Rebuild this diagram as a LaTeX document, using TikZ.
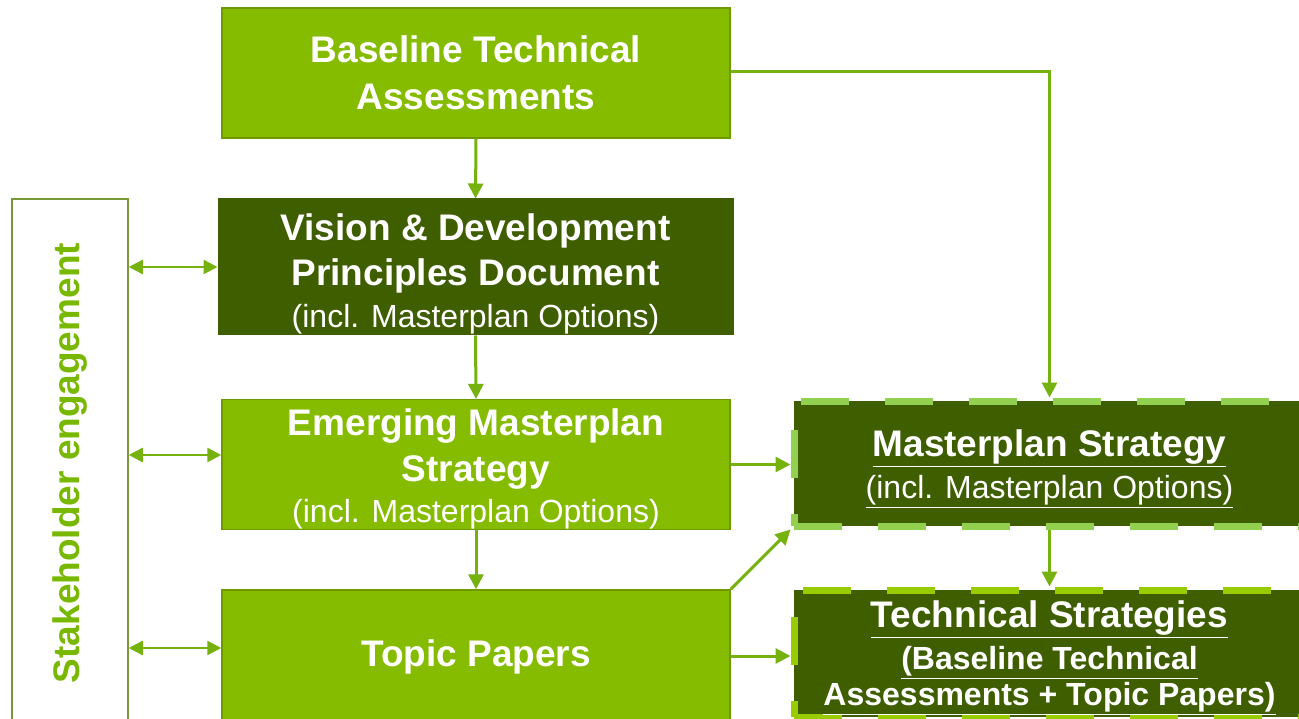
\documentclass[tikz,border=0pt]{standalone}
\usepackage{fontspec}
\setmainfont{Liberation Sans}
\usetikzlibrary{arrows.meta}
\definecolor{lightg}{HTML}{85BC00}
\definecolor{lightgb}{HTML}{6E9A00}
\definecolor{darkg}{HTML}{3F5E00}
\definecolor{arrowg}{HTML}{76B20E}
\definecolor{dashA}{HTML}{92D050}
\definecolor{dashB}{HTML}{99CC00}
\definecolor{stakeb}{HTML}{7A9A3A}
\definecolor{staket}{HTML}{78B800}
\newcommand{\ttl}{\fontsize{37}{47}\selectfont\bfseries}
\newcommand{\sub}{\fontsize{32}{40}\selectfont\mdseries}
\newcommand{\subb}{\fontsize{32}{40}\selectfont\bfseries}
\newcommand{\topstrut}[1]{\rule{0pt}{#1}}
\tikzset{
  lightbox/.style={draw=lightgb, line width=1.5pt, fill=lightg, text=white, align=center, inner sep=0pt, font=\ttl},
  darkbox/.style={draw=darkg, line width=1pt, fill=darkg, text=white, align=center, inner sep=0pt, font=\ttl},
  dashbox/.style={fill=darkg, line width=7pt, dash pattern=on 48pt off 36pt, text=white, align=center, inner sep=0pt, font=\ttl},
  arr/.style={draw=arrowg, line width=3pt, -{Triangle[length=15pt,width=15pt]}},
  darr/.style={draw=arrowg, line width=2.4pt, {Triangle[length=14pt,width=14pt]}-{Triangle[length=14pt,width=14pt]}},
}
\begin{document}
\begin{tikzpicture}[x=1pt,y=-1pt]
\useasboundingbox[fill=white] (0,0) rectangle (1299,719);

\node[lightbox, minimum width=508pt, minimum height=130pt] (base) at (476,73)
  {Baseline Technical\\Assessments};
\node[darkbox, minimum width=515pt, minimum height=136pt] (vision) at (475.5,267)
  {\topstrut{41pt}Vision \& Development\\[-2pt]Principles Document\\[-5pt]{\sub (incl. Masterplan Options)}};
\node[lightbox, minimum width=508pt, minimum height=129pt] (emerg) at (476,464.5)
  {\topstrut{36pt}Emerging Masterplan\\[-1pt]Strategy\\[-6pt]{\sub (incl. Masterplan Options)}};
\node[lightbox, minimum width=508pt, minimum height=134pt] (topic) at (476,657)
  {Topic Papers};
\node[draw=stakeb, line width=1.5pt, fill=white, minimum width=116pt, minimum height=526pt, inner sep=0pt] (stake) at (70,462) {};
\node[text=staket, rotate=90, inner sep=0pt, font=\ttl] (staketext) at ([yshift=-1pt]stake.center) {Stakeholder engagement};

\node[dashbox, draw=dashA, minimum width=511pt, minimum height=125pt] (master) at (1049.5,463.5)
  {\topstrut{37pt}\underline{Masterplan Strategy}\\[-5pt]{\sub\underline{(incl. Masterplan Options)}}};
\node[dashbox, draw=dashB, minimum width=511pt, minimum height=127pt] (tech) at (1049.5,653.5)
  {\topstrut{35pt}\underline{Technical Strategies}\\[-5pt]{\subb\underline{(Baseline Technical}}\\[-11pt]{\subb\underline{Assessments + Topic Papers)}}};

\draw[arr] (base.south) -- (vision.north);
\draw[arr] (vision.south) -- (emerg.north);
\draw[arr] (emerg.south) -- (topic.north);
\draw[arr] ([yshift=1pt]base.east) -| (master.north);
\draw[arr] (emerg.east) -- (emerg.east -| master.west);
\draw[arr] (topic.north east) -- (master.south west);
\draw[arr] ([yshift=1pt]topic.east) -- ([yshift=1pt]topic.east -| tech.west);
\draw[arr] (master.south) -- (tech.north);

\draw[darr] (stake.east |- vision.west) -- (vision.west);
\draw[darr] ([yshift=9.5pt]stake.east |- emerg.west) -- ([yshift=9.5pt]emerg.west);
\draw[darr] ([yshift=9pt]stake.east |- topic.west) -- ([yshift=9pt]topic.west);
\end{tikzpicture}
\end{document}
